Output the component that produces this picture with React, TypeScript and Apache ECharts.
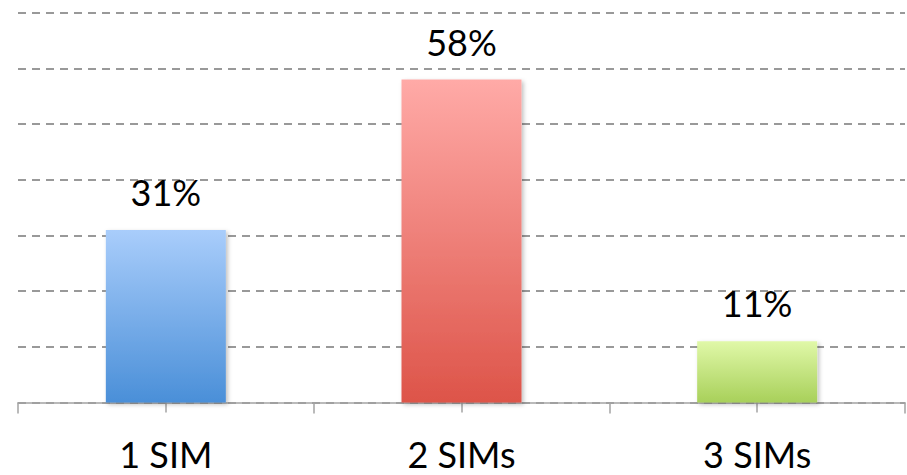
import React, { useEffect, useRef } from "react";
import * as echarts from "echarts";

const categories = ["1 SIM", "2 SIMs", "3 SIMs"];
const values = [31, 58, 11];
const topColors = ["#a9cdfb", "#ffaaa7", "#e0f8a8"];
const bottomColors = ["#4a8fd8", "#dd5449", "#a8d05a"];
const yMax = 70;
const yInterval = 10;

export default function App() {
  const ref = useRef<HTMLDivElement>(null);
  useEffect(() => {
    if (!ref.current) return;
    const chart = echarts.init(ref.current, null, { renderer: "svg" });
    const font = "Lato, 'Open Sans', sans-serif";
    const axisColor = "#a3a3a3";
    chart.setOption({
      animation: false,
      backgroundColor: "#ffffff",
      grid: { left: 18, right: 2, top: 12.7, bottom: 72.4 },
      xAxis: [
        {
          type: "category",
          data: categories,
          boundaryGap: true,
          axisLine: { show: true, lineStyle: { color: axisColor, width: 1.5 } },
          axisTick: { show: true, length: 11, lineStyle: { color: axisColor, width: 1.5 } },
          axisLabel: { color: "#000", fontSize: 36, lineHeight: 30, fontFamily: font, margin: 36 },
        },
        {
          type: "category",
          data: categories,
          position: "bottom",
          offset: 10,
          axisLine: { show: false },
          axisTick: { show: true, alignWithLabel: true, inside: true, length: 21, lineStyle: { color: axisColor, width: 1.5 } },
          axisLabel: { show: false },
        },
      ],
      yAxis: {
        type: "value",
        min: 0,
        max: yMax,
        interval: yInterval,
        axisLine: { show: false },
        axisTick: { show: false },
        axisLabel: { show: false },
        splitLine: { show: true, lineStyle: { color: "#999999", width: 2, type: [8, 6] } },
      },
      series: [
        {
          type: "bar",
          xAxisIndex: 0,
          barWidth: 120,
          data: values.map((v, i) => ({
            value: v,
            itemStyle: {
              color: new echarts.graphic.LinearGradient(0, 0, 0, 1, [
                { offset: 0, color: topColors[i] },
                { offset: 1, color: bottomColors[i] },
              ]),
              shadowColor: "rgba(0,0,0,0.25)",
              shadowBlur: 4,
              shadowOffsetX: 2,
              shadowOffsetY: 2,
            },
          })),
          label: {
            show: true,
            position: "top",
            distance: 20,
            formatter: "{c}%",
            color: "#000",
            fontSize: 36,
            fontFamily: font,
          },
          z: 3,
        },
      ],
    });
    return () => chart.dispose();
  }, []);
  return <div ref={ref} style={{ position: "fixed", left: 0, top: 0, width: 907, height: 475 }} />;
}
